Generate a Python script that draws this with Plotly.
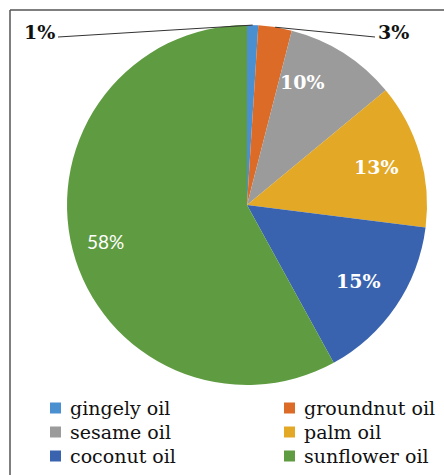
import math
import plotly.graph_objects as go

# Share of edible oils used
oils = ["gingely oil", "groundnut oil", "sesame oil", "palm oil", "coconut oil", "sunflower oil"]
shares = [1, 3, 10, 13, 15, 58]
colors = ["#4A8FD0", "#DD6B28", "#9B9B9B", "#E2A826", "#3963AE", "#5F9C41"]

W, H = 444, 475
cx, cy, R = 247, 205, 180  # pie centre and radius in pixels

fig = go.Figure(go.Pie(
    labels=oils,
    values=shares,
    sort=False,
    direction="clockwise",
    rotation=0,
    marker=dict(colors=colors, line=dict(width=0)),
    textinfo="none",
    hoverinfo="label+percent",
    showlegend=False,
    domain=dict(x=[(cx - R) / W, (cx + R) / W], y=[1 - (cy + R) / H, 1 - (cy - R) / H]),
))


def px(x):
    return x / W


def py(y):
    return 1 - y / H


# small angular nudges (degrees) for inside labels crowded near the top
label_nudge = {"sesame oil": -8}

total = sum(shares)
annotations = []
shapes = []
cum = 0
for name, v in zip(oils, shares):
    mid = (cum + v / 2) / total * 2 * math.pi
    cum += v
    pct = f"{round(100 * v / total)}%"
    if v / total < 0.05:
        # small slices: outside label with a leader line
        ex = cx + R * math.sin(mid)
        ey = cy - R * math.cos(mid)
        left = ex < cx + 10
        lx = 58 if left else 375
        ly = 37
        shapes.append(dict(type="line", xref="paper", yref="paper",
                           x0=px(lx), y0=py(ly), x1=px(ex), y1=py(ey),
                           line=dict(color="#333333", width=1)))
        annotations.append(dict(
            x=px(lx - 1) if left else px(lx + 1), y=py(ly - 5),
            xref="paper", yref="paper", showarrow=False,
            xanchor="right" if left else "left", yanchor="middle",
            text=f"<b>{pct}</b>",
            font=dict(family="DejaVu Serif", size=19, color="#111111"),
        ))
    else:
        big = v / total > 0.5
        ang = mid + math.radians(label_nudge.get(name, 0))
        rr = 0.81 * R if big else 0.75 * R
        tx = cx + rr * math.sin(ang)
        ty = cy - rr * math.cos(ang)
        annotations.append(dict(
            x=px(tx), y=py(ty), xref="paper", yref="paper", showarrow=False,
            xanchor="center", yanchor="middle",
            text=pct if big else f"<b>{pct}</b>",
            font=dict(family="Lato" if big else "DejaVu Serif",
                      size=19, color="white"),
        ))

# legend: two columns, three rows
leg_cols = [50, 284]
leg_rows = [408, 432, 456]
sq = 11
for i, (name, col) in enumerate(zip(oils, colors)):
    lx = leg_cols[i % 2]
    ly = leg_rows[i // 2]
    shapes.append(dict(type="rect", xref="paper", yref="paper",
                       x0=px(lx), x1=px(lx + sq), y0=py(ly + sq / 2), y1=py(ly - sq / 2),
                       fillcolor=col, line=dict(width=0)))
    annotations.append(dict(
        x=px(lx + sq + 7), y=py(ly), xref="paper", yref="paper", showarrow=False,
        xanchor="left", yanchor="middle", text=name,
        font=dict(family="DejaVu Serif", size=19, color="#111111"),
    ))

# frame lines along the top and left edges
shapes.append(dict(type="line", xref="paper", yref="paper",
                   x0=px(10), y0=py(10), x1=1, y1=py(10),
                   line=dict(color="#555555", width=1.5)))
shapes.append(dict(type="line", xref="paper", yref="paper",
                   x0=px(10), y0=py(10), x1=px(10), y1=0,
                   line=dict(color="#555555", width=1.5)))

fig.update_layout(
    width=W, height=H,
    margin=dict(l=0, r=0, t=0, b=0, autoexpand=False),
    paper_bgcolor="white",
    plot_bgcolor="white",
    showlegend=False,
    annotations=annotations,
    shapes=shapes,
)

fig.write_html("out.html")
